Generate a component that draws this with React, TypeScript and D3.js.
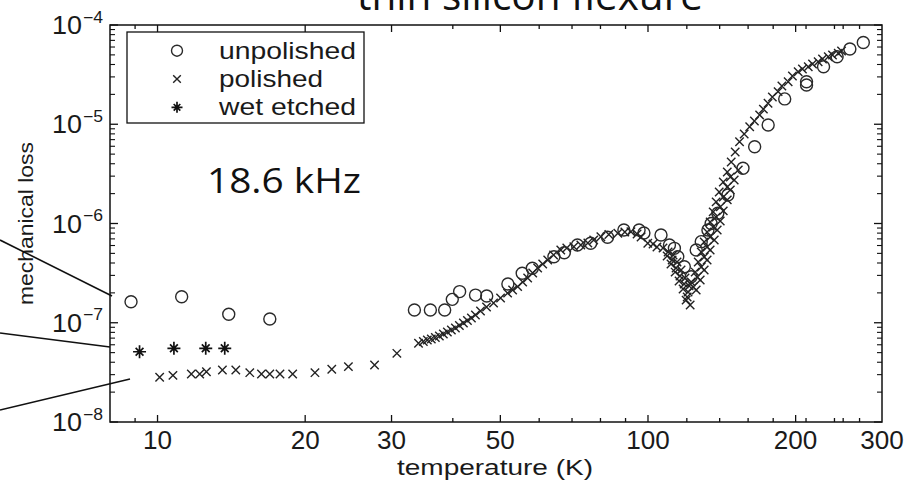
import React from "react";
import * as d3 from "d3";

// Mechanical loss of a thin silicon flexure (18.6 kHz mode) vs temperature
const unpolishedT = [8.83, 11.2, 13.97, 16.94, 33.4, 36.0, 38.5, 39.9, 41.3, 44.5, 46.9, 51.8, 55.4, 58.1, 64.3, 67.5, 71.8, 76.4, 82.7, 89.3, 95.9, 98.1, 106.3, 110.6, 113.2, 115.0, 118.6, 122.5, 125.4, 128.4, 132.5, 134.5, 138.8, 145.5, 156.2, 165.0, 175.8, 190.0, 210.5, 210.5, 228, 243, 258, 274.8];
const unpolishedLoss = [1.63e-7, 1.83e-7, 1.22e-7, 1.09e-7, 1.345e-7, 1.345e-7, 1.345e-7, 1.72e-7, 2.06e-7, 1.9e-7, 1.86e-7, 2.46e-7, 3.15e-7, 3.54e-7, 4.63e-7, 5.08e-7, 6.07e-7, 6.32e-7, 7.26e-7, 8.6e-7, 8.6e-7, 8.02e-7, 7.66e-7, 6.07e-7, 5.62e-7, 4.63e-7, 3.67e-7, 2.91e-7, 5.41e-7, 6.56e-7, 8.6e-7, 1.0e-6, 1.27e-6, 1.94e-6, 3.6e-6, 5.94e-6, 9.83e-6, 1.8e-5, 2.68e-5, 2.49e-5, 3.8e-5, 4.79e-5, 5.73e-5, 6.66e-5];

const polishedT = [
  10.1, 10.75, 11.72, 12.19, 12.58, 13.56, 14.44, 15.42, 16.29, 16.94, 17.77, 18.86, 20.94, 22.66, 24.5, 27.7, 30.76,
  34.05, 34.83, 35.49, 36.16, 36.85, 37.55, 38.26, 38.99, 39.73, 40.49, 41.25, 42.04, 42.84, 43.65, 44.48, 45.55, 46.86, 48.43,
  50.05, 51.73, 52.96, 54.23, 55.52, 56.84, 58.2, 59.57, 61.0, 62.45, 64.2, 66.4, 68.3, 70.6, 72.95, 75.4, 77.5, 80.15, 83.2,
  86.8, 89.7, 92.3, 95.0, 96.8, 99.9, 102.4, 104.3,
  107.3, 109.4, 111.4, 113.6, 115.7, 117.9, 120.2, 121.9,
  112.5, 114.6, 116.8, 119.0, 121.3,
  109.9, 112.0, 114.1, 116.2, 118.5, 120.7, 119.6,
  122.5, 124.8, 126.6, 128.4, 130.2, 132.0, 133.9, 135.8, 137.7, 139.7, 142.4, 145.1, 147.8, 150.6,
  123.6, 126.0, 128.4, 130.2, 132.0, 133.9, 135.8, 137.7, 140.4, 142.4, 145.1, 147.2,
  125.4, 127.8, 130.2, 132.0, 133.9, 136.5, 138.4, 140.4, 142.4, 145.1, 147.2, 149.9, 152.8,
  153.7, 157.1, 161.2, 164.8, 168.9, 171.9, 175.7, 179.3, 184.2, 187.5, 193.1, 197.0, 202.4, 206.5, 212.2, 216.5, 222.3, 226.9, 233.1, 237.8, 244.3, 248.1,
];
const polishedLoss = [
  2.82e-8, 2.95e-8, 3.05e-8, 3.05e-8, 3.21e-8, 3.34e-8, 3.34e-8, 3.14e-8, 3.05e-8, 3.05e-8, 3.05e-8, 3.05e-8, 3.14e-8, 3.4e-8, 3.61e-8, 3.75e-8, 4.92e-8,
  6.21e-8, 6.47e-8, 6.7e-8, 6.86e-8, 7.1e-8, 7.35e-8, 7.7e-8, 8.07e-8, 8.45e-8, 8.85e-8, 9.38e-8, 9.94e-8, 1.054e-7, 1.117e-7, 1.197e-7, 1.313e-7, 1.441e-7, 1.58e-7,
  1.776e-7, 1.99e-7, 2.14e-7, 2.31e-7, 2.57e-7, 2.82e-7, 3.17e-7, 3.56e-7, 3.91e-7, 4.29e-7, 4.82e-7, 5.41e-7, 5.67e-7, 5.84e-7, 6.07e-7, 6.36e-7, 6.82e-7, 7.36e-7, 7.75e-7,
  7.97e-7, 8.21e-7, 8.27e-7, 7.84e-7, 7.31e-7, 6.32e-7, 6.22e-7, 5.8e-7,
  5.67e-7, 4.71e-7, 3.91e-7, 3.24e-7, 2.63e-7, 2.19e-7, 1.82e-7, 1.51e-7,
  4.82e-7, 4.09e-7, 3.4e-7, 2.82e-7, 2.35e-7,
  5.16e-7, 4.29e-7, 3.56e-7, 2.96e-7, 2.46e-7, 2.04e-7, 1.69e-7,
  2.57e-7, 3.24e-7, 4.09e-7, 5.16e-7, 6.51e-7, 8.2e-7, 1.035e-6, 1.31e-6, 1.65e-6, 2.08e-6, 2.62e-6, 3.3e-6, 4.16e-6, 5.25e-6,
  2.29e-7, 2.89e-7, 3.65e-7, 4.6e-7, 5.8e-7, 7.31e-7, 9.22e-7, 1.16e-6, 1.47e-6, 1.85e-6, 2.33e-6, 2.94e-6,
  2.14e-7, 2.7e-7, 3.4e-7, 4.29e-7, 5.41e-7, 6.82e-7, 8.6e-7, 1.06e-6, 1.34e-6, 1.73e-6, 2.18e-6, 2.74e-6, 3.46e-6,
  6.67e-6, 7.98e-6, 9.45e-6, 1.08e-5, 1.24e-5, 1.42e-5, 1.63e-5, 1.88e-5, 2.13e-5, 2.43e-5, 2.68e-5, 3.06e-5, 3.38e-5, 3.6e-5, 3.8e-5, 4.05e-5, 4.27e-5, 4.54e-5, 4.79e-5, 4.99e-5, 5.19e-5, 5.47e-5,
];

const wetEtchedT = [9.19, 10.8, 12.54, 13.71];
const wetEtchedLoss = [5.1e-8, 5.53e-8, 5.53e-8, 5.53e-8];

const xTickValues = [9, 10, 20, 30, 40, 50, 60, 70, 80, 90, 100, 120, 140, 160, 180, 200, 210, 240, 250, 270];
const xLabelValues = [10, 20, 30, 50, 100, 200, 300];
const yDecades = [-8, -7, -6, -5, -4];
const legendNames = ["unpolished", "polished", "wet etched"];
const titleText = "thin silicon flexure";
const freqText = "18.6 kHz";
const xAxisTitle = "temperature (K)";
const yAxisTitle = "mechanical loss";

const W = 909;
const H = 482;
const L = 110, R = 882, T = 25, B = 422;
const INK = "#1a1a1a";
const SANS = "'Liberation Sans', Arial, sans-serif";
const SLIDE = "'Open Sans', 'Noto Sans', sans-serif";

const x = d3.scaleLog().domain([8, 300]).range([L, R]);
const y = d3.scaleLog().domain([1e-8, 1e-4]).range([B, T]);

const Circle = ({ cx, cy, r = 6 }: { cx: number; cy: number; r?: number }) => (
  <circle cx={cx} cy={cy} r={r} fill="none" stroke="#2a2a2a" strokeWidth={1.4} />
);
const Cross = ({ cx, cy, s = 4.2 }: { cx: number; cy: number; s?: number }) => (
  <path d={`M${cx - s},${cy - s}L${cx + s},${cy + s}M${cx - s},${cy + s}L${cx + s},${cy - s}`} stroke="#222" strokeWidth={1.4} fill="none" />
);
const Star = ({ cx, cy, s = 6.5 }: { cx: number; cy: number; s?: number }) => {
  const d = s * 0.6;
  return (
    <path
      d={`M${cx},${cy - s}L${cx},${cy + s}M${cx - s},${cy}L${cx + s},${cy}M${cx - d},${cy - d}L${cx + d},${cy + d}M${cx - d},${cy + d}L${cx + d},${cy - d}`}
      stroke="#111" strokeWidth={1.7} fill="none"
    />
  );
};

export default function App() {
  const yMinor: number[] = [];
  yDecades.slice(0, -1).forEach((e) => {
    for (let k = 2; k <= 9; k++) yMinor.push(k * Math.pow(10, e));
  });

  return (
    <svg width={W} height={H} style={{ position: "absolute", left: 0, top: 0, background: "#fff" }} viewBox={`0 0 ${W} ${H}`}>
      <rect x={0} y={0} width={W} height={H} fill="#fff" />

      {/* title, its upper half runs off the top edge */}
      <text x={357} y={10} fontFamily={SLIDE} fontSize={40} fill="#111" textLength={346} lengthAdjust="spacingAndGlyphs">
        {titleText}
      </text>

      {/* plot frame */}
      <rect x={L} y={T} width={R - L} height={B - T} fill="none" stroke="#111" strokeWidth={1.5} />

      {/* x ticks, bottom and top */}
      {xTickValues.map((v) => {
        const len = xLabelValues.includes(v) ? 7 : 4;
        const px = x(v);
        return (
          <g key={`xt${v}`}>
            <line x1={px} x2={px} y1={B} y2={B - len} stroke="#111" strokeWidth={1.3} />
            <line x1={px} x2={px} y1={T} y2={T + len} stroke="#111" strokeWidth={1.3} />
          </g>
        );
      })}
      {xLabelValues.map((v) => (
        <text key={`xl${v}`} x={x(v)} y={449} textAnchor="middle" fontFamily={SANS} fontSize={25} fill={INK}
          textLength={String(v).length * 14.5} lengthAdjust="spacingAndGlyphs">
          {v}
        </text>
      ))}

      {/* y ticks, left and right */}
      {yDecades.map((e) => {
        const py = y(Math.pow(10, e));
        return (
          <g key={`yd${e}`}>
            <line x1={L} x2={L + 8} y1={py} y2={py} stroke="#111" strokeWidth={1.3} />
            <line x1={R} x2={R - 8} y1={py} y2={py} stroke="#111" strokeWidth={1.3} />
            <text x={52} y={py + 9} fontFamily={SANS} fontSize={25} fill={INK} textLength={30} lengthAdjust="spacingAndGlyphs">10</text>
            <text x={83} y={py - 2.5} fontFamily={SANS} fontSize={16} fill={INK} textLength={20} lengthAdjust="spacingAndGlyphs">{`\u2212${-e}`}</text>
          </g>
        );
      })}
      {yMinor.map((v, i) => {
        const py = y(v);
        return (
          <g key={`ym${i}`}>
            <line x1={L} x2={L + 5} y1={py} y2={py} stroke="#111" strokeWidth={1.1} />
            <line x1={R} x2={R - 5} y1={py} y2={py} stroke="#111" strokeWidth={1.1} />
          </g>
        );
      })}

      {/* axis titles */}
      <text x={495} y={475} textAnchor="middle" fontFamily={SANS} fontSize={22} fill={INK} textLength={196} lengthAdjust="spacingAndGlyphs">
        {xAxisTitle}
      </text>
      <text transform="translate(33,223.5) rotate(-90)" textAnchor="middle" fontFamily={SANS} fontSize={21} fill={INK}
        textLength={163} lengthAdjust="spacingAndGlyphs">
        {yAxisTitle}
      </text>

      {/* data */}
      <g>
        {polishedT.map((t, i) => (
          <Cross key={`p${i}`} cx={x(t)} cy={y(polishedLoss[i])} />
        ))}
        {unpolishedT.map((t, i) => (
          <Circle key={`u${i}`} cx={x(t)} cy={y(unpolishedLoss[i])} />
        ))}
        {wetEtchedT.map((t, i) => (
          <Star key={`w${i}`} cx={x(t)} cy={y(wetEtchedLoss[i])} />
        ))}
      </g>

      {/* legend */}
      <rect x={127} y={32} width={237} height={91} fill="#fff" stroke="#111" strokeWidth={1.3} />
      <Circle cx={177} cy={50.7} r={5.5} />
      <Cross cx={177} cy={79} s={3.8} />
      <Star cx={177} cy={107.3} s={5.5} />
      {legendNames.map((n, i) => (
        <text key={n} x={219} y={58.5 + i * 28.3} fontFamily={SANS} fontSize={24} fill={INK}
          textLength={[137, 104, 137][i]} lengthAdjust="spacingAndGlyphs">
          {n}
        </text>
      ))}

      {/* frequency annotation */}
      <text x={207} y={193} fontFamily={SLIDE} fontSize={35} fill="#111" textLength={154} lengthAdjust="spacingAndGlyphs">
        {freqText}
      </text>

      {/* pointer lines from the slide margin */}
      <line x1={0} y1={240} x2={112} y2={296} stroke="#111" strokeWidth={1.6} />
      <line x1={0} y1={333} x2={110} y2={347} stroke="#111" strokeWidth={1.6} />
      <line x1={0} y1={410} x2={130} y2={379} stroke="#111" strokeWidth={1.6} />
    </svg>
  );
}
